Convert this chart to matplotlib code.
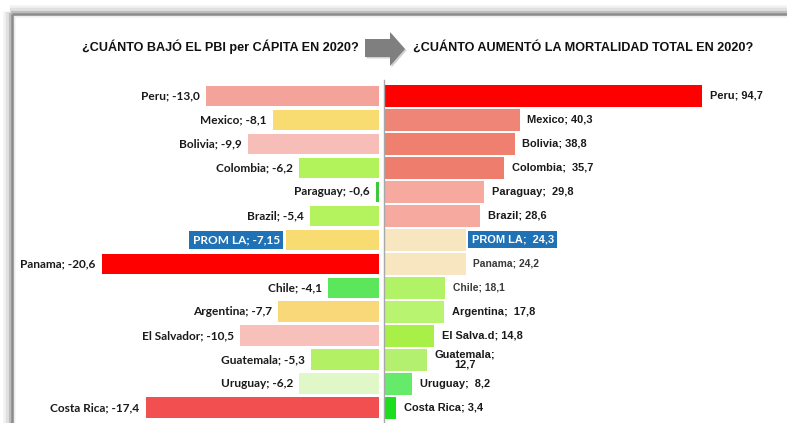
import matplotlib.pyplot as plt
from matplotlib.patches import Polygon
from matplotlib.lines import Line2D

# left panel: GDP per capita change 2020 (%)
countries_gdp = ["Peru", "Mexico", "Bolivia", "Colombia", "Paraguay", "Brazil", "PROM LA",
                 "Panama", "Chile", "Argentina", "El Salvador", "Guatemala", "Uruguay", "Costa Rica"]
gdp_change = [-13.0, -8.1, -9.9, -6.2, -0.6, -5.4, -7.15, -20.6, -4.1, -7.7, -10.5, -5.3, -6.2, -17.4]

# right panel: total mortality increase 2020 (%)
countries_mort = ["Peru", "Mexico", "Bolivia", "Colombia", "Paraguay", "Brazil", "PROM LA",
                  "Panama", "Chile", "Argentina", "El Salva.d", "Guatemala", "Uruguay", "Costa Rica"]
mort_change = [94.7, 40.3, 38.8, 35.7, 29.8, 28.6, 24.3, 24.2, 18.1, 17.8, 14.8, 12.7, 8.2, 3.4]
mort_sep = ["; ", "; ", "; ", ";  ", ";  ", "; ", ";  ", "; ", "; ", ";  ", "; ", ";\n", ";  ", "; "]

colors_gdp = ["#F4A39B", "#F8DC72", "#F7BDB8", "#B2F25A", "#3CC83C", "#B4F25E", "#F8DC72",
              "#FF0000", "#5CE65C", "#F8D878", "#F7C0BA", "#B4F064", "#E0F8C8", "#F25050"]
colors_mort = ["#FF0000", "#EF8576", "#EF8070", "#EF7D6E", "#F5A99F", "#F5A99F", "#F8E6C0",
               "#F8E6C0", "#B2F266", "#B8F470", "#A8F048", "#B4F070", "#66EA6A", "#1EDC1E"]

title_left = "¿CUÁNTO BAJÓ EL PBI per CÁPITA EN 2020?"
title_right = "¿CUÁNTO AUMENTÓ LA MORTALIDAD TOTAL EN 2020?"

plt.rcParams['font.family'] = ['Liberation Sans', 'DejaVu Sans']

W, H = 787, 423
fig = plt.figure(figsize=(W / 100, H / 100), dpi=100)
fig.patch.set_facecolor("white")


def px_box(x0, y0, x1, y1):
    return [x0 / W, 1 - y1 / H, (x1 - x0) / W, (y1 - y0) / H]


def fx(x):
    return x / W


def fy(y):
    return 1 - y / H


def fmt(v):
    s = f"{v:.1f}" if round(v, 1) == v else f"{v:.2f}"
    return s.replace(".", ",")


PROM_BLUE = "#1F72B5"
n = len(countries_gdp)

# ---- left panel
axL = fig.add_axes(px_box(12, 84, 379, 420))
axL.barh(range(n), gdp_change, height=0.85, color=colors_gdp)
axL.set_xlim(-27.15, -0.365)
axL.set_ylim(13.52, -0.5)
axL.axis("off")
for i, (c, v) in enumerate(zip(countries_gdp, gdp_change)):
    txt = f"{c}; {fmt(v)}"
    kw = dict(xy=(v, i), xytext=(-4.5, 0), textcoords="offset points",
              ha="right", va="center", fontsize=8.6, fontweight="bold",
              family=["Lato", "DejaVu Sans"], color="#1A1A1A")
    if c == "PROM LA":
        kw.update(color="white",
                  bbox=dict(boxstyle="square,pad=0.3", fc=PROM_BLUE, ec="none"))
    axL.annotate(txt, **kw)

# ---- right panel
light_labels = {"Panama", "Chile"}
axR = fig.add_axes(px_box(384.6, 84, 787, 420))
axR.barh(range(n), mort_change, height=0.92, color=colors_mort)
axR.set_xlim(0, 120.1)
axR.set_ylim(13.52, -0.5)
axR.axis("off")
for i, (c, v, s) in enumerate(zip(countries_mort, mort_change, mort_sep)):
    txt = f"{c}{s}{fmt(v)}"
    light = c in light_labels
    kw = dict(xy=(v, i), xytext=(5.5, 0), textcoords="offset points",
              ha="left", va="center", fontsize=7.4 if light else 7.9,
              fontweight="bold", color="#3A3A3A" if light else "#1A1A1A",
              multialignment="center", linespacing=1.0)
    if c == "PROM LA":
        kw.update(color="white", xytext=(4, 0),
                  bbox=dict(boxstyle="square,pad=0.3", fc=PROM_BLUE, ec="none"))
    axR.annotate(txt, **kw)

# ---- separator between panels
fig.add_artist(Line2D([fx(383.5)] * 2, [fy(80), 0], color="#A8A8A8", lw=1))

# ---- frame with soft shadow (top and left)
for lw, col, off in [(9, "#F2F2F2", 3), (6, "#E0E0E0", 2), (3, "#BDBDBD", 1), (1.8, "#8C8C8C", 0)]:
    fig.add_artist(Line2D([fx(12 - off), 1], [fy(14 - off)] * 2, color=col, lw=lw,
                          solid_capstyle="butt"))
    fig.add_artist(Line2D([fx(12 - off)] * 2, [fy(14 - off), 0], color=col, lw=lw,
                          solid_capstyle="butt"))

# ---- arrow between titles
arrow_px = [(365, 39), (390, 39), (390, 32), (405, 49), (390, 66), (390, 57), (365, 57)]
shadow = Polygon([(fx(x + 1.5), fy(y + 1.5)) for x, y in arrow_px], closed=True,
                 transform=fig.transFigure, fc="#D0D0D0", ec="none")
arrow = Polygon([(fx(x), fy(y)) for x, y in arrow_px], closed=True,
                transform=fig.transFigure, fc="#7F7F7F", ec="none")
fig.add_artist(shadow)
fig.add_artist(arrow)

# ---- titles
fig.text(fx(220), fy(47), title_left, ha="center", va="center",
         fontsize=9.1, fontweight="bold", color="#111111")
fig.text(fx(413), fy(47), title_right, ha="left", va="center",
         fontsize=9.1, fontweight="bold", color="#111111")

fig.savefig("out.png", dpi=100)
